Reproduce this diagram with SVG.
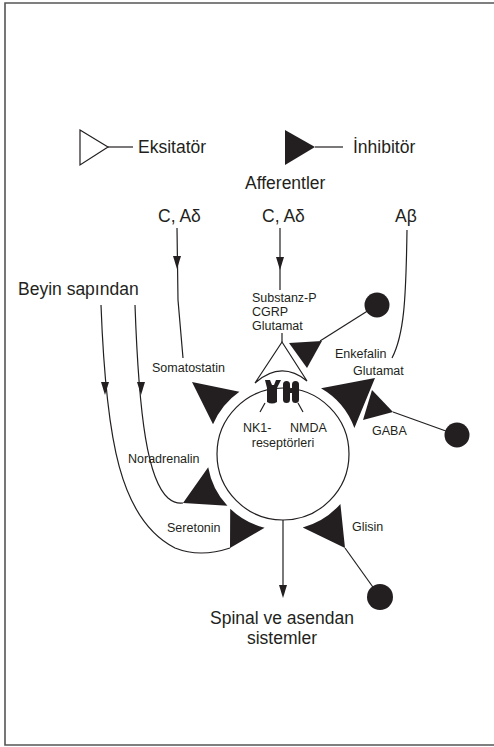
<svg xmlns="http://www.w3.org/2000/svg" width="494" height="747" viewBox="0 0 494 747">
<style>
text{font-family:"Liberation Sans",Arial,sans-serif;fill:#231f20}
.b{font-size:17.5px}
.s{font-size:12.5px}
.ln{fill:none;stroke:#231f20;stroke-width:1.2}
.f{fill:#231f20;stroke:none}
.o{fill:#fff;stroke:#231f20;stroke-width:1.2}
</style>
<defs>
<path id="ah" d="M-4,-13 L4,-13 L0,0 Z"/>
</defs>
<rect x="0" y="0" width="494" height="747" fill="#fff"/>
<g id="frame" fill="none" stroke="#555" stroke-width="1.6">
<path d="M494,3 H5 V745 H494"/>
</g>
<g id="legend">
<path class="o" d="M80,130 L108,147 L80,165 Z"/>
<line class="ln" x1="108" y1="147" x2="133" y2="147"/>
<text class="b" x="138" y="153">Eksitatör</text>
<path class="f" d="M285,130 L315,147 L285,165 Z"/>
<line class="ln" x1="315" y1="147" x2="343" y2="147"/>
<text class="b" x="353" y="153">İnhibitör</text>
<text class="b" x="245" y="189">Afferentler</text>
</g>
<g id="connectors">
<path class="ln" d="M177,228 L178,300 Q181,335 183,358"/>
<use href="#ah" class="f" x="177" y="269"/>
<path class="ln" d="M280,228 L280,290"/>
<use href="#ah" class="f" x="280" y="270"/>
<path class="ln" d="M282,333 L282,342"/>
<path class="ln" d="M407,230 C406,300 404,335 392,358"/>
<path class="ln" d="M101,305 C106,440 120,520 175,548 Q200,558 230,548"/>
<use href="#ah" class="f" x="105" y="395"/>
<path class="ln" d="M135,305 C139,420 148,480 168,498 Q175,504 183,503"/>
<use href="#ah" class="f" x="141" y="395"/>
<path class="ln" d="M283,520 L283,590"/>
<use href="#ah" class="f" x="283" y="598"/>
<line class="ln" x1="377" y1="305" x2="320" y2="341"/>
<line class="ln" x1="393" y1="412" x2="457" y2="435"/>
<line class="ln" x1="345" y1="548" x2="380" y2="597"/>
</g>
<g id="neuron">
<circle class="ln" cx="283" cy="454" r="66"/>
<text class="s" x="243" y="432">NK1-</text>
<text class="s" x="290" y="432">NMDA</text>
<text class="s" x="283" y="447" text-anchor="middle">reseptörleri</text>
</g>
<g id="receptors">
<path class="ln" d="M265,403 L260,412 M298,403 L303,412"/>
<path class="f" d="M265,380 L270,380 L272,385 L274,385 L276,380 L281,380 L277,388 L277,402 Q272,405 267,402 L267,388 Z"/>
<rect class="f" x="283" y="381" width="7" height="22" rx="3.5"/>
<rect class="f" x="292" y="381" width="7" height="22" rx="3.5"/>
<rect class="f" x="288" y="389" width="6" height="4"/>
</g>
<g id="excitatory">
<path class="o" d="M282,342 L255,383 Q281,360 307,381 Z"/>
<text class="s" x="252" y="302">Substanz-P</text>
<text class="s" x="252" y="316">CGRP</text>
<text class="s" x="252" y="330">Glutamat</text>
</g>
<g id="somatostatin">
<path class="f" d="M192,382 L239.4,391.7 A76,76 0 0 0 213,424.3 Z"/>
<text class="s" x="152" y="372">Somatostatin</text>
</g>
<g id="noradrenalin">
<path class="f" d="M183,503 L208.2,467.2 A76,76 0 0 0 227.4,505.8 Z"/>
<text class="s" x="128" y="463">Noradrenalin</text>
</g>
<g id="seretonin">
<path class="f" d="M230,548 L230.2,508.7 A76,76 0 0 0 264.6,527.7 Z"/>
<text class="s" x="167" y="532">Seretonin</text>
</g>
<g id="glisin">
<path class="f" d="M345,548 L340.4,503.9 A76,76 0 0 1 302.7,527.4 Z"/>
<circle class="f" cx="380" cy="597" r="13"/>
<text class="s" x="352" y="531">Glisin</text>
</g>
<g id="enkefalin">
<path class="f" d="M289,343 L322,341 L307,368 Z"/>
<circle class="f" cx="377" cy="305" r="12.5"/>
</g>
<g id="abeta-glutamat">
<path class="f" d="M375,378 L321,388.2 A76,76 0 0 1 354.4,428 Z"/>
<text class="s" x="335" y="358">Enkefalin</text>
<text class="s" x="353" y="375">Glutamat</text>
</g>
<g id="gaba">
<path class="f" d="M372,390 L393,412 L363,420 Z"/>
<circle class="f" cx="457" cy="435" r="12.5"/>
<text class="s" x="372" y="435">GABA</text>
</g>
<g id="labels">
<text class="b" x="158" y="222">C, Aδ</text>
<text class="b" x="262" y="222">C, Aδ</text>
<text class="b" x="395" y="222">Aβ</text>
<text class="b" x="18" y="295">Beyin sapından</text>
<text class="b" x="282" y="624" text-anchor="middle">Spinal ve asendan</text>
<text class="b" x="282" y="644" text-anchor="middle">sistemler</text>
</g>
</svg>
